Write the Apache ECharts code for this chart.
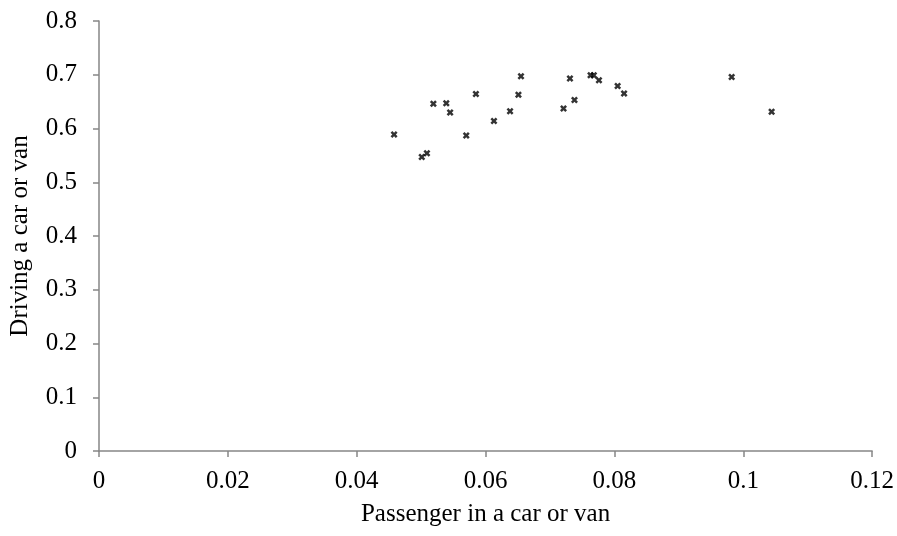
<!DOCTYPE html>
<html>
<head>
<meta charset="utf-8">
<script src="https://cdn.jsdelivr.net/npm/echarts@6/dist/echarts.min.js"></script>
<style>html,body{margin:0;padding:0;background:#fff}#c{width:897px;height:536px}</style>
</head>
<body>
<div id="c"></div>
<script>
var passenger = [0.0458,0.0519,0.0539,0.0545,0.0585,0.0655,0.0651,0.0638,0.0613,0.0570,0.0509,0.0501,0.0731,0.0763,0.0768,0.0776,0.0805,0.0815,0.0738,0.0721,0.0982,0.1044];
var driving   = [0.589,0.646,0.647,0.630,0.664,0.697,0.663,0.632,0.614,0.587,0.554,0.547,0.693,0.699,0.699,0.690,0.679,0.665,0.653,0.637,0.696,0.631];
var xTicks = {min:0, max:0.12, interval:0.02};
var yTicks = {min:0, max:0.8, interval:0.1};
var xName = 'Passenger in a car or van';
var yName = 'Driving a car or van';

var pts = passenger.map(function(x,i){return [x, driving[i]];});
var font = 'Liberation Serif';
function fmt(v){return String(parseFloat(v.toFixed(4)));}
var chart = echarts.init(document.getElementById('c'));
chart.setOption({
  animation:false,
  grid:{left:97,right:24,top:21,bottom:85},
  xAxis:{type:'value',min:xTicks.min,max:xTicks.max,interval:xTicks.interval,
    name:xName,nameLocation:'middle',nameGap:51,
    nameTextStyle:{fontFamily:font,fontSize:25,color:'#000'},
    axisLine:{lineStyle:{color:'#868686',width:1.5}},
    axisTick:{show:true,length:6,inside:false,lineStyle:{color:'#868686',width:1.5}},
    splitLine:{show:false},
    axisLabel:{fontFamily:font,fontSize:25,color:'#000',margin:18,formatter:fmt}
  },
  yAxis:{type:'value',min:yTicks.min,max:yTicks.max,interval:yTicks.interval,
    name:yName,nameLocation:'middle',nameGap:66,
    nameTextStyle:{fontFamily:font,fontSize:25,color:'#000'},
    axisLine:{show:true,lineStyle:{color:'#868686',width:1.5}},
    axisTick:{show:true,length:6,inside:false,lineStyle:{color:'#868686',width:1.5}},
    splitLine:{show:false},
    axisLabel:{fontFamily:font,fontSize:25,color:'#000',margin:22,formatter:fmt}
  },
  series:[{type:'scatter',data:pts,
    symbol:'path://M0,2.5L2.5,0L5,2.5L7.5,0L10,2.5L7.5,5L10,7.5L7.5,10L5,7.5L2.5,10L0,7.5L2.5,5Z',
    symbolSize:7,itemStyle:{color:'#000'}}]
});
</script>
</body>
</html>
